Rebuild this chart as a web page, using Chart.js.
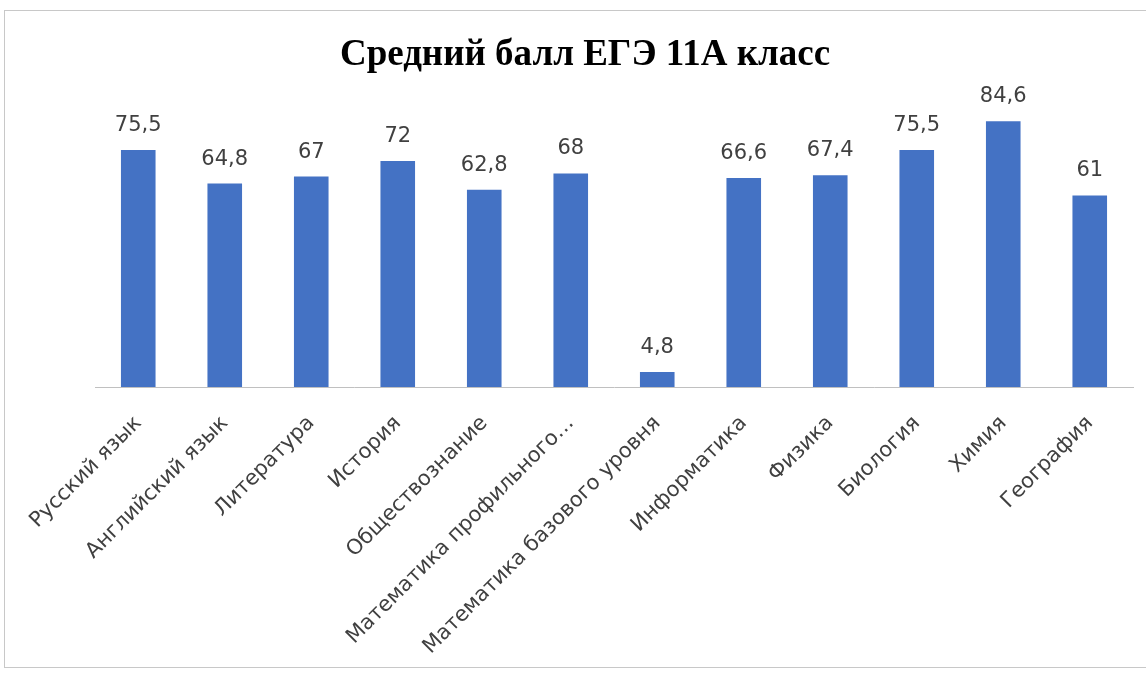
<!DOCTYPE html>
<html>
<head>
<meta charset="utf-8">
<script src="https://cdn.jsdelivr.net/npm/chart.js@4.4.0/dist/chart.umd.min.js"></script>
<style>
  html,body{margin:0;padding:0;background:#fff;overflow:hidden;}
  #frame{position:absolute;left:4px;top:10px;width:1160px;height:656px;border:1px solid #c8c8c8;}
  #wrap{position:absolute;left:0;top:0;width:1146px;height:675px;}
</style>
</head>
<body>
<div id="frame"></div>
<div id="wrap"><canvas id="myChart" width="1146" height="675"></canvas></div>
<script>
const subjects = ["Русский язык","Английский язык","Литература","История","Обществознание",
  "Математика профильного…","Математика базового уровня","Информатика","Физика","Биология","Химия","География"];
const scores = [75.5, 64.8, 67, 72, 62.8, 68, 4.8, 66.6, 67.4, 75.5, 84.6, 61];
const chartTitle = "Средний балл ЕГЭ 11А класс";

// подписи значений над столбцами (с запятой)
const valueLabels = {
  id: "valueLabels",
  afterDatasetsDraw(chart){
    const c = chart.ctx;
    const meta = chart.getDatasetMeta(0);
    c.save();
    c.font = "21px 'DejaVu Sans'";
    c.fillStyle = "#404040";
    c.textAlign = "center";
    c.textBaseline = "alphabetic";
    meta.data.forEach((bar, i) => {
      let txt = String(scores[i]).replace(".", ",");
      c.fillText(txt, bar.x, bar.y - 19);
    });
    c.restore();
  }
};

const ctx = document.getElementById('myChart');
var myChart = new Chart(ctx, {
  type: 'bar',
  data: {
    labels: subjects,
    datasets: [{
      label: "Средний балл",
      data: scores,
      backgroundColor: "#4472C4",
      barPercentage: 0.4,
      categoryPercentage: 1
    }]
  },
  options: {
    responsive: false,
    animation: false,
    devicePixelRatio: 1,
    layout: { padding: { left: 37, right: 13, top: 18, bottom: 10 } },
    plugins: {
      legend: { display: false },
      tooltip: { enabled: false },
      title: {
        display: true,
        text: chartTitle,
        color: "#000",
        font: { family: "'Liberation Serif'", size: 37, weight: "bold" },
        padding: { top: 15, bottom: 27 }
      }
    },
    scales: {
      y: {
        min: 0, max: 90,
        grid: { display: false },
        border: { display: false },
        ticks: { display: false },
        afterFit: (scale) => { scale.width = 58; }
      },
      x: {
        grid: { display: false },
        border: { display: true, color: "#c0c0c0", width: 1 },
        ticks: {
          autoSkip: false,
          maxRotation: 45,
          minRotation: 45,
          padding: 16,
          color: "#404040",
          font: { family: "'DejaVu Sans'", size: 21 }
        },
        afterFit: (scale) => { scale.height = 278; }
      }
    }
  },
  plugins: [valueLabels]
});
</script>
</body>
</html>
